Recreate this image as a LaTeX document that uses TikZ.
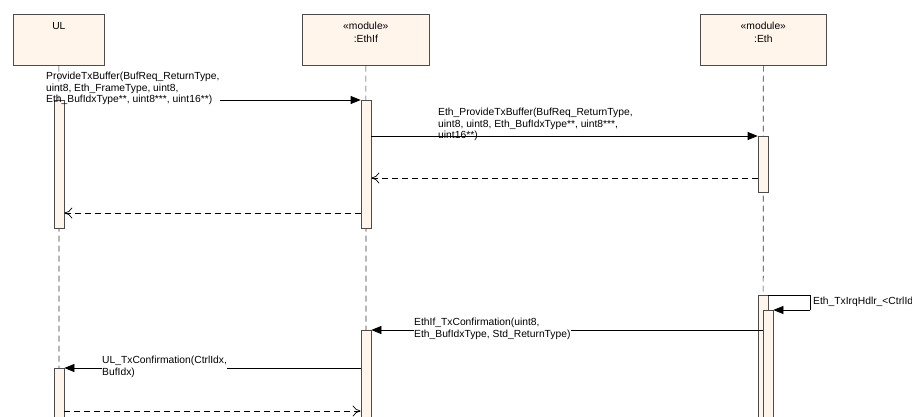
\documentclass[tikz,border=0pt]{standalone}
\usepackage{fontspec}
\setmainfont{Liberation Sans}
\usetikzlibrary{arrows.meta}
\begin{document}
\begin{tikzpicture}[x=1pt,y=-1pt,
  box/.style={draw=black!70,fill=orange!8,line width=0.7pt},
  act/.style={draw=black!70,fill=orange!8,line width=0.7pt},
  life/.style={black!80,line width=0.7pt,dash pattern=on 6pt off 4pt},
  msg/.style={-{Triangle[length=10pt,width=8pt]},black,line width=0.7pt},
  ret/.style={dash pattern=on 6pt off 4pt,-{To[length=8pt,width=11pt]},black,line width=0.7pt},
  lbl/.style={font=\fontsize{10.3}{11.5}\selectfont,align=left,inner sep=0pt,anchor=north west}]
\useasboundingbox (0,0) rectangle (912,416);
\begin{scope}
\clip (0,0) rectangle (912,416);
% lifeline heads
\node[box,minimum width=91pt,minimum height=51pt,anchor=north west] (ul) at (13,14) {};
\node[font=\fontsize{10.3}{10}\selectfont,anchor=north] at (ul.north) [yshift=-5pt] {UL};
\node[box,minimum width=127pt,minimum height=51pt,anchor=north west] (ethif) at (302,14) {};
\node[font=\fontsize{10.3}{13}\selectfont,align=center,anchor=north] at (ethif.north) [yshift=-4pt] {«module»\\:EthIf};
\node[box,minimum width=126pt,minimum height=51pt,anchor=north west] (eth) at (700,14) {};
\node[font=\fontsize{10.3}{13}\selectfont,align=center,anchor=north] at (eth.north) [yshift=-4pt] {«module»\\:Eth};
% lifelines
\coordinate (ulb) at (59,416); \coordinate (eib) at (366,416); \coordinate (ethb) at (763,416);
\draw[life] (ul.south) -- (ulb);
\draw[life] (ethif.south) -- (eib);
\draw[life] (eth.south) -- (ethb);
% activations
\node[act,minimum width=10pt,minimum height=128pt,inner sep=0pt,anchor=north] (a1) at (59,100) {};
\node[act,minimum width=10pt,minimum height=128pt,inner sep=0pt,anchor=north] (a2) at (366,100) {};
\node[act,minimum width=10pt,minimum height=56pt,inner sep=0pt,anchor=north] (a3) at (763,136) {};
\node[act,minimum width=10pt,minimum height=125pt,inner sep=0pt,anchor=north] (a4) at (763,295) {};
\node[act,minimum width=10pt,minimum height=110pt,inner sep=0pt,anchor=north] (a5) at (768,310) {};
\node[act,minimum width=10pt,minimum height=90pt,inner sep=0pt,anchor=north] (a6) at (366,330) {};
\node[act,minimum width=10pt,minimum height=52pt,inner sep=0pt,anchor=north] (a7) at (59,368) {};
% messages
\node[lbl] (t1) at (46,72) {ProvideTxBuffer(BufReq\_ReturnType,\\uint8, Eth\_FrameType, uint8,\\Eth\_BufIdxType**, uint8***, uint16**)};
\draw[msg] (t1.east |- 0,100) -- (a2.north west);
\node[lbl] (t2) at (438,108) {Eth\_ProvideTxBuffer(BufReq\_ReturnType,\\uint8, uint8, Eth\_BufIdxType**, uint8***,\\uint16**)};
\draw[msg] (a2.east |- 0,136) -- (a3.north west);
\draw[ret] (a3.west |- 0,178) -- (a2.east |- 0,178);
\draw[ret] (a2.west |- 0,213) -- (a1.east |- 0,213);
\coordinate (s1) at (810,295); \coordinate (s2) at (810,310);
\draw[line width=0.7pt] (a4.north east) -- (s1) -- (s2);
\draw[msg] (s2) -- (a5.north east);
\node[lbl] (t3) at (813,297) {Eth\_TxIrqHdlr\_<CtrlIdx>()};
\draw[msg] (a4.center |- 0,330) -- (a6.north east);
\node[lbl,fill=white] (t4) at (414,318) {EthIf\_TxConfirmation(uint8,\\Eth\_BufIdxType, Std\_ReturnType)};
\draw[msg] (a6.west |- 0,368) -- (a7.north east);
\node[lbl,fill=white] (t5) at (102,356) {UL\_TxConfirmation(CtrlIdx,\\BufIdx)};
\draw[ret] (a7.east |- 0,411) -- (a6.west |- 0,411);
\end{scope}
\end{tikzpicture}
\end{document}
